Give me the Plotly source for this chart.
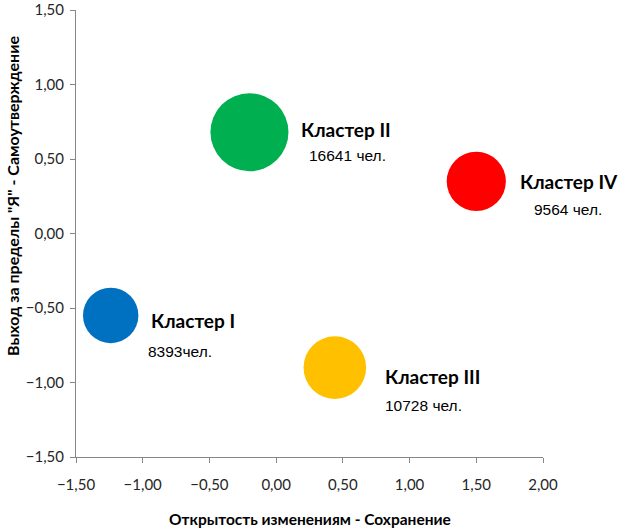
import plotly.graph_objects as go

clusters = ["Кластер I", "Кластер II", "Кластер III", "Кластер IV"]
x_vals = [-1.24, -0.20, 0.44, 1.50]
y_vals = [-0.55, 0.68, -0.90, 0.35]
counts = [8393, 16641, 10728, 9564]
count_labels = ["8393чел.", "16641 чел.", "10728 чел.", "9564 чел."]
colors = ["#0070C0", "#00B050", "#FFC000", "#FF0000"]

# label offsets in pixels (relative to bubble centre)
name_dx = [38, 50, 48, 42]
name_dy = [-5, 3, -9, 0]
cnt_dx = [35, 58, 48, 56]
cnt_dy = [-36, -23, -38, -28]

max_d = 78
fig = go.Figure()
fig.add_trace(go.Scatter(
    x=x_vals, y=y_vals, mode="markers",
    marker=dict(size=counts, sizemode="area",
                sizeref=2.0 * max(counts) / (max_d ** 2),
                color=colors, opacity=1, line=dict(width=0)),
    hoverinfo="skip", showlegend=False))

name_font = dict(family="Lato, Noto Sans, sans-serif", size=19, color="#000000")
cnt_font = dict(family="Liberation Sans, Arial, sans-serif", size=15.5, color="#000000")

for i in range(len(clusters)):
    fig.add_annotation(x=x_vals[i], y=y_vals[i], xref="x", yref="y",
                       text="<b>" + clusters[i] + "</b>", showarrow=False,
                       xanchor="left", yanchor="middle",
                       xshift=name_dx[i], yshift=name_dy[i], font=name_font)
    fig.add_annotation(x=x_vals[i], y=y_vals[i], xref="x", yref="y",
                       text=count_labels[i], showarrow=False,
                       xanchor="left", yanchor="middle",
                       xshift=cnt_dx[i], yshift=cnt_dy[i], font=cnt_font)

fig.add_annotation(x=0, xref="paper", y=0.584, yref="paper",
                   text="<b>Выход за пределы \"Я\" - Самоутверждение</b>",
                   textangle=-90, showarrow=False, xshift=-63,
                   xanchor="center", yanchor="middle",
                   font=dict(family="Lato, Noto Sans, sans-serif", size=16, color="#000000"))

fig.add_annotation(x=0.5, xref="paper", y=0, yref="paper",
                   text="<b>Открытость изменениям - Сохранение</b>",
                   showarrow=False, yshift=-62,
                   xanchor="center", yanchor="middle",
                   font=dict(family="Lato, Noto Sans, sans-serif", size=15.5, color="#000000"))

tick_font = dict(family="Lato, Noto Sans, sans-serif", size=15, color="#262626")
fig.update_layout(
    width=623, height=529,
    margin=dict(l=76, r=80, t=10, b=72),
    paper_bgcolor="white", plot_bgcolor="white",
    separators=", ",
    xaxis=dict(range=[-1.5, 2.0], dtick=0.5, tick0=-1.5, tickformat=".2f",
               showgrid=False, zeroline=False, showline=True, linecolor="#868686",
               linewidth=1, ticks="outside", ticklen=5, tickcolor="#868686",
               tickfont=tick_font, ticklabelstandoff=9, automargin=False),
    yaxis=dict(range=[-1.5, 1.5], dtick=0.5, tick0=-1.5, tickformat=".2f",
               showgrid=False, zeroline=False, showline=True, linecolor="#868686",
               linewidth=1, ticks="outside", ticklen=5, tickcolor="#868686",
               tickfont=tick_font, ticklabelstandoff=3, automargin=False),
)

fig.write_html("out.html")
